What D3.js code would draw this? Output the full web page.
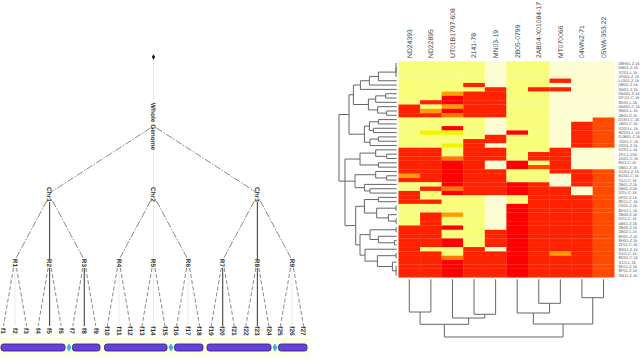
<!DOCTYPE html>
<html>
<head>
<meta charset="utf-8">
<script src="https://cdn.jsdelivr.net/npm/d3@7"></script>
<style>
  html, body { margin: 0; padding: 0; background: #fff; overflow: hidden; }
  svg { display: block; }
  text { text-rendering: geometricPrecision; }
</style>
</head>
<body>
<svg id="chart" width="640" height="363"></svg>
<script>
// ---- genome tree data ----
const chr_names = ["Chr1", "Chr2", "Chr3"];
const region_names = ["R1", "R2", "R3", "R4", "R5", "R6", "R7", "R8", "R9"];
const fragment_names = d3.range(1, 28).map(i => "f" + i);
// branches drawn as a heavy solid line
const solid_branches = ["R2", "R8", "f5", "f8", "f20", "f23"];

// chromosome arms, in genome units
const arm_starts = [0, 71.5, 103.5, 173.5, 206, 277.5];
const arm_ends = [64, 99, 166, 202, 270, 306];
const centromeres = [68, 170, 274];

// ---- heatmap data ----
const lines = ["ND24393", "ND22895", "UT01B1797-608", "2141-78", "MN03-19", "2B05-0799",
               "2AB04-X01084-17", "MT070066", "04WNZ-71", "05WA-353.22"];
const markers = ["08H01.Z.1k", "09I01.Z.1k", "S2S1.L.1k", "JF501.Z.1k", "LL501.Z.1k", "08I01.Z.1k",
                 "S6D1.Z.1k", "06A01.Z.1k", "DF1I1.C.1k", "8D41.L.1k", "06A01.C.1k", "9M01.L.1k",
                 "2B01.Z.1k", "D1I01.C.1k", "1B01.C.1k", "S2G1.L.1k", "8D201.L.1k", "D1B01.Z.1k",
                 "J1I01.C.1k", "2G01.Z.1k", "S2S1.L.1k", "2S1.L.21k", "J1I01.C.1k", "8I01.C.1k",
                 "0B01.Z.1k", "G1I01.Z.1k", "B1I01.C.1k", "S1I1.C.1k", "2B01.Z.1k", "0B02.Z.1k",
                 "S2I1.C.1k", "6F01.Z.1k", "8D11.C.1k", "2S01.Z.1k", "8D41.L.1k", "2B00.Z.1k",
                 "S2I1.C.1k", "5B01.Z.1k", "2B00.Z.1k", "2B02.L.1k", "8H01.Z.1k", "8H01.Z.1k",
                 "2F01.C.1k", "8G01.Z.1k", "S1I1.C.1k", "8D01.C.1k", "S1I1.L.1k", "8D11.Z.1k",
                 "8F01.Z.1k", "SB11.Z.1k"];

// level of each cell, one array per line, ten rows to a group
const col_nd24393 = [1,1,1,1,1,1,1,1,1,1, 6,6,6,1,1,1,1,1,1,1, 6,6,6,6,6,6,3,6,1,1, 6,6,6,1,1,1,1,1,6,6, 6,6,6,6,6,6,6,6,6,6];
const col_nd22895 = [1,1,1,1,1,1,1,1,1,6, 1,3,6,1,1,1,2,1,1,1, 6,6,6,6,6,6,6,6,1,6, 1,1,6,1,1,6,6,6,6,6, 6,6,6,1,6,6,6,6,6,6];
const col_ut01b = [1,1,1,1,1,1,1,3,7,7, 3,7,4,1,1,7,2,1,1,2, 1,1,4,7,7,7,7,7,7,4, 7,1,1,1,1,3,1,1,7,1, 1,7,7,1,1,4,7,7,7,7];
const col_2141 = [1,1,1,1,1,6,1,6,6,6, 6,6,6,1,1,1,1,1,6,6, 6,6,6,6,6,6,6,6,6,6, 6,1,1,1,1,1,1,1,1,1, 1,1,1,6,6,6,6,6,6,6];
const col_mn03 = [0,0,0,0,0,0,6,6,6,6, 6,6,6,0,0,0,0,6,6,0, 6,6,6,0,0,6,6,6,6,6, 6,0,0,0,0,0,0,0,0,6, 6,6,6,0,6,6,6,6,6,6];
const col_2b05 = [1,1,1,1,1,1,1,1,1,1, 1,1,1,1,1,1,7,1,1,1, 1,1,1,7,7,1,1,1,7,7, 7,1,1,7,7,7,7,7,7,7, 7,7,7,7,7,7,7,7,7,7];
const col_2ab04 = [1,1,1,1,1,1,6,1,1,1, 1,1,1,1,1,1,1,1,1,1, 1,6,6,1,5,1,1,1,6,6, 6,6,6,6,6,6,6,6,6,6, 6,6,6,6,6,6,6,6,6,6];
const col_mt07 = [0,0,0,0,6,0,6,0,0,0, 0,0,0,0,0,0,0,0,0,0, 6,6,6,6,6,6,0,0,0,6, 6,6,6,6,6,6,6,6,6,6, 6,6,6,6,3,6,6,6,6,6];
const col_04wnz = [0,0,0,0,0,0,0,0,0,0, 0,0,0,0,6,6,6,6,6,6, 0,0,0,0,0,6,6,6,6,0, 0,6,6,6,6,6,6,6,6,6, 6,6,6,6,6,6,6,6,6,6];
const col_05wa = [0,0,0,0,0,0,0,0,0,0, 0,0,0,5,5,5,5,5,5,5, 0,0,0,0,0,5,5,5,5,5, 5,5,5,5,5,5,5,5,5,5, 5,5,5,5,5,5,5,5,5,5];
const heat_columns = [col_nd24393, col_nd22895, col_ut01b, col_2141, col_mn03,
                      col_2b05, col_2ab04, col_mt07, col_04wnz, col_05wa];

const heat_levels = [0, 1, 2, 3, 4, 5, 6, 7];
const heat_colors = ["#fdfdd2", "#f8fd7c", "#f4f400", "#ff9c00", "#ff7800", "#ff4a00", "#ff2200", "#ff0000"];

// dendrograms as nested lists: [merge height, child, child, ...], numbers are leaves
const row_upper = [43.3,
    [36.3, [27.3, [18.3, [0.7, [0.7, 0, 1, 2], 3], 4], 5], 6],
    [28.3, [21, [11, 7, 8], 9], [19, 10, [10, 11, 12]]]];
const row_middle = [32.3,
    [27.3, [18.3, 13, 14], [23.3, 15, 16]],
    [26.7, [18.3, 17, 18], 19]];
const row_lower_a = [36.7, [21, 20, [10, 21, 22]], [18.3, 23, 24]];
const row_lower_b = [41.7, [21, 25, [10, 26, 27]], [32.3, 28, [26.7, 29, 30]]];
const row_lower_c = [41,
    [32.3, [18.3, 31, 32], [20, [0.7, 33, 34], [8.3, 35, [0.7, 36, 37]]]],
    [36.7, [26.7, [0.7, 38, 39], [18.3, 40, [2.3, 41, 42]]],
           [31.7, 43, [19.3, [0.7, 44, 45], [4.3, 46, [0.7, 47, 48, 49]]]]]];
const row_tree = [57.7, [47.7, row_upper, row_middle], [51.7, row_lower_a, row_lower_b, row_lower_c]];
const col_tree = [57.7,
    [45, [32.7, 0, 1], [38.7, 2, [35, 3, 4]]],
    [44.7, [33.7, 5, [24, 6, 7]], [18.4, 8, 9]]];

const svg = d3.select("#chart");

// ---- left panel: genome tree ----
function plot_genome_tree() {
    const tree_data = {
        name: "", children: [{
            name: "Whole Genome",
            children: chr_names.map((c, i) => ({
                name: c,
                children: region_names.slice(i * 3, i * 3 + 3).map((r, j) => ({
                    name: r,
                    children: fragment_names.slice(i * 9 + j * 3, i * 9 + j * 3 + 3).map(f => ({ name: f }))
                }))
            }))
        }]
    };
    const root = d3.hierarchy(tree_data);
    const x = d3.scaleLinear().domain([0, 26]).range([3.5, 303.5]);
    root.leaves().forEach((d, i) => { d.px = x(i); });
    root.eachAfter(d => { if (d.children) d.px = d3.mean(d.children, c => c.px); });

    // by depth of the child: where the branch starts and ends
    const label_y = [57, 126.5, 194.5, 263, 331];
    const outer_from = [0, 0, 128, 201, 268];
    const outer_to = [0, 103, 193, 260, 326];
    const mid_from = [0, 57, 151, 202, 268];
    const mid_to = [0, 103, 187, 259, 326];

    const g = svg.append("g");
    root.links().forEach(l => {
        const depth = l.target.depth;
        const kids = l.source.children;
        const is_mid = kids.length === 1 || kids[1] === l.target;
        const is_solid = solid_branches.includes(l.target.data.name);
        const offset = is_mid ? 0 : (l.target.px < l.source.px ? -1 : 1) * (depth === 4 ? 1.5 : 3);
        const line = g.append("line")
            .attr("x1", l.source.px + offset)
            .attr("y1", is_mid ? mid_from[depth] : outer_from[depth])
            .attr("x2", l.target.px)
            .attr("y2", is_mid ? mid_to[depth] : outer_to[depth]);
        if (is_mid) {
            line.attr("stroke", is_solid ? "#333" : "#e4e4e4").attr("stroke-width", is_solid ? 1 : 0.8);
        } else {
            line.attr("stroke", "#555").attr("stroke-width", 0.7)
                .attr("stroke-dasharray", depth === 4 ? "4 2.2" : "7 1.5 1.5 1.5");
        }
    });

    root.descendants().filter(d => d.depth > 0).forEach(d => {
        g.append("text")
            .attr("transform", `translate(${d.px},${label_y[d.depth]}) rotate(90)`)
            .attr("text-anchor", "middle")
            .attr("dy", "0.35em")
            .attr("font-family", "Liberation Sans")
            .attr("font-weight", "bold")
            .attr("font-size", 6.5)
            .attr("fill", "#333")
            .text(d.data.name);
    });

    g.append("path")
        .attr("d", d3.symbol(d3.symbolDiamond, 9)())
        .attr("transform", `translate(${root.px},${label_y[0]})`)
        .attr("fill", "#111");

    // chromosome strip along the bottom
    const gx = d3.scaleLinear().domain([0, 306]).range([1, 307]);
    g.append("rect").attr("x", 0).attr("y", 338).attr("width", 310).attr("height", 20).attr("fill", "#ffffe6");
    g.selectAll("rect.arm")
        .data(arm_starts)
        .join("rect")
        .attr("class", "arm")
        .attr("x", d => gx(d))
        .attr("y", 344)
        .attr("width", (d, i) => gx(arm_ends[i]) - gx(d))
        .attr("height", 7)
        .attr("rx", 2.5)
        .attr("fill", "#6a3fe2")
        .attr("stroke", "#2f2a72")
        .attr("stroke-width", 0.9);
    g.selectAll("path.cen")
        .data(centromeres)
        .join("path")
        .attr("class", "cen")
        .attr("d", d3.symbol(d3.symbolDiamond, 22)())
        .attr("transform", d => `translate(${gx(d)},347.5)`)
        .attr("fill", "#3fb2e4");
}

// ---- right panel: heatmap ----
function plot_heatmap() {
    const x = d3.scaleBand().domain(d3.range(lines.length)).range([398.5, 614.3]);
    const y = d3.scaleBand().domain(d3.range(markers.length)).range([61.3, 277.3]);
    const color = d3.scaleOrdinal().domain(heat_levels).range(heat_colors);

    const cols = svg.append("g").selectAll("g")
        .data(heat_columns)
        .join("g")
        .attr("transform", (d, i) => `translate(${x(i)},0)`);
    cols.selectAll("rect")
        .data(d => d)
        .join("rect")
        .attr("x", 0)
        .attr("y", (d, i) => y(i))
        .attr("width", x.bandwidth() + 0.2)
        .attr("height", y.bandwidth() + 0.2)
        .attr("fill", d => color(d));

    // column and row labels
    svg.append("g").selectAll("text")
        .data(lines)
        .join("text")
        .attr("transform", (d, i) => `translate(${x(i) + x.bandwidth() / 2},58) rotate(-90)`)
        .attr("dy", "0.35em")
        .attr("font-family", "Liberation Sans")
        .attr("font-size", 6.8)
        .attr("fill", "#444")
        .text(d => d);
    svg.append("g").selectAll("text")
        .data(markers)
        .join("text")
        .attr("x", 618.5)
        .attr("y", (d, i) => y(i) + y.bandwidth() / 2)
        .attr("dy", "0.35em")
        .attr("font-family", "Liberation Sans")
        .attr("font-size", 4.1)
        .attr("fill", "#555")
        .text(d => d);

    // row dendrogram grows to the left, column dendrogram grows downward
    const h_row = d3.scaleLinear().domain([0, 57.7]).range([396.7, 339]);
    const h_col = d3.scaleLinear().domain([0, 57.7]).range([279.3, 337]);
    plot_dendrogram(row_tree, i => y(i) + y.bandwidth() / 2, h_row, true);
    plot_dendrogram(col_tree, i => x(i) + x.bandwidth() / 2, h_col, false);
}

function plot_dendrogram(tree, leaf_pos, h_scale, horizontal) {
    const root = d3.hierarchy(tree, d => Array.isArray(d) ? d.slice(1) : null);
    root.eachAfter(d => {
        if (!d.children) {
            d.pos = leaf_pos(d.data);
            d.h = 0;
        } else {
            const k = d.children;
            // three-way joins hang from the middle branch
            d.pos = k.length === 3 && d.depth === 1 ? k[1].pos : (k[0].pos + k[k.length - 1].pos) / 2;
            d.h = d.data[0];
        }
    });
    const pt = (pos, h) => horizontal ? [h_scale(h), pos] : [pos, h_scale(h)];
    const path = d3.path();
    root.descendants().filter(d => d.children).forEach(d => {
        const k = d.children;
        path.moveTo(...pt(k[0].pos, d.h));
        path.lineTo(...pt(k[k.length - 1].pos, d.h));
        k.forEach(c => {
            path.moveTo(...pt(c.pos, d.h));
            path.lineTo(...pt(c.pos, c.h));
        });
    });
    svg.append("path")
        .attr("d", path.toString())
        .attr("fill", "none")
        .attr("stroke", "#666")
        .attr("stroke-width", 1);
}

plot_genome_tree();
plot_heatmap();
</script>
</body>
</html>
